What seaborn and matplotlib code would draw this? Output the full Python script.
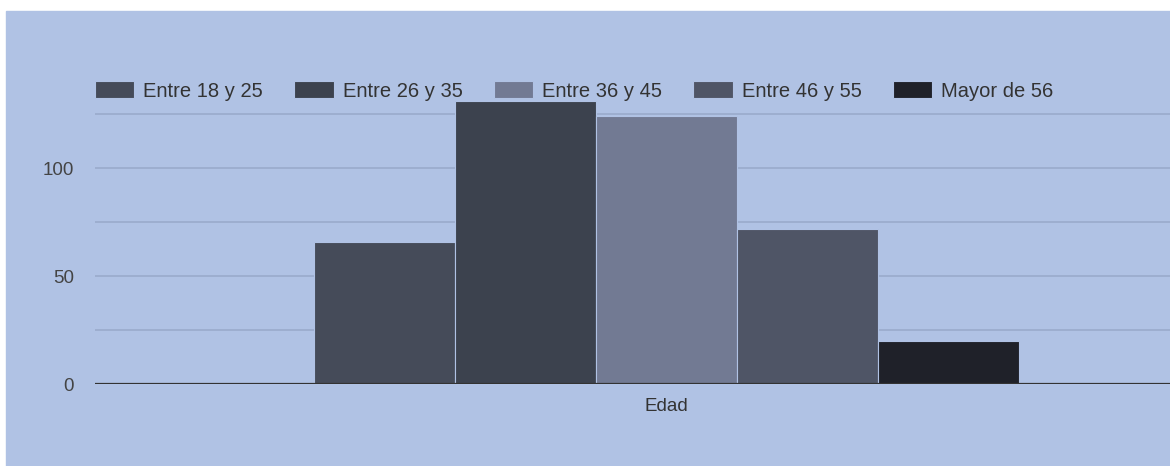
import matplotlib
matplotlib.use("Agg")
import matplotlib.pyplot as plt
from matplotlib.patches import Rectangle
from matplotlib.ticker import MultipleLocator
import seaborn as sns
import pandas as pd

# data
category = "Edad"
groups = ["Entre 18 y 25", "Entre 26 y 35", "Entre 36 y 45", "Entre 46 y 55", "Mayor de 56"]
values = [66, 131, 124, 72, 20]
colors = ["#454b59", "#3c424e", "#727a93", "#4f5566", "#1f2129"]

bg = "#b0c2e4"
W, H = 1170, 466

sns.set_theme(style="white")
plt.rcParams["font.family"] = ["Liberation Sans", "DejaVu Sans"]

df = pd.DataFrame({"cat": [category] * len(groups), "grupo": groups, "valor": values})

fig = plt.figure(figsize=(W / 100, H / 100), dpi=100, facecolor="white")
# white strip on top/left like the screenshot
fig.patches.append(Rectangle((6 / W, 0), 1 - 6 / W, (H - 11) / H,
                             transform=fig.transFigure, color=bg, zorder=-1))

ymax = 135
px_per_unit = 2.16
ax = fig.add_axes([95 / W, (H - 384.3) / H, 1075 / W, ymax * px_per_unit / H])
ax.set_facecolor("none")

sns.barplot(data=df, x="cat", y="valor", hue="grupo", hue_order=groups,
            palette=colors, width=0.8, saturation=1, ax=ax,
            edgecolor=bg, linewidth=0.8)

handles, labels = ax.get_legend_handles_labels()
ax.get_legend().remove()

ax.set_ylim(0, ymax)
ax.set_xlim(-0.6487, 0.5715)
ax.yaxis.set_major_locator(MultipleLocator(50))
ax.yaxis.set_minor_locator(MultipleLocator(25))
ax.grid(axis="y", which="both", color="#9aaacb", linewidth=1.2)
ax.set_axisbelow(True)
ax.axhline(0, color="#333333", linewidth=1.6, zorder=5)

for s in ax.spines.values():
    s.set_visible(False)

ax.tick_params(axis="y", which="both", length=0, pad=15, labelsize=13.5, labelcolor="#444444")
ax.tick_params(axis="x", length=0, pad=10, labelsize=13.5, labelcolor="#333333")
ax.set_xlabel("")
ax.set_ylabel("")

fig.legend(handles, labels, loc="center left", ncol=5, frameon=False,
           bbox_to_anchor=(95 / W, 1 - 91 / H), bbox_transform=fig.transFigure,
           fontsize=14.5, labelcolor="#333333", handlelength=1.95, handleheight=0.9,
           handletextpad=0.45, columnspacing=1.55, borderpad=0, borderaxespad=0)

fig.savefig("out.png", dpi=100, facecolor=fig.get_facecolor())
